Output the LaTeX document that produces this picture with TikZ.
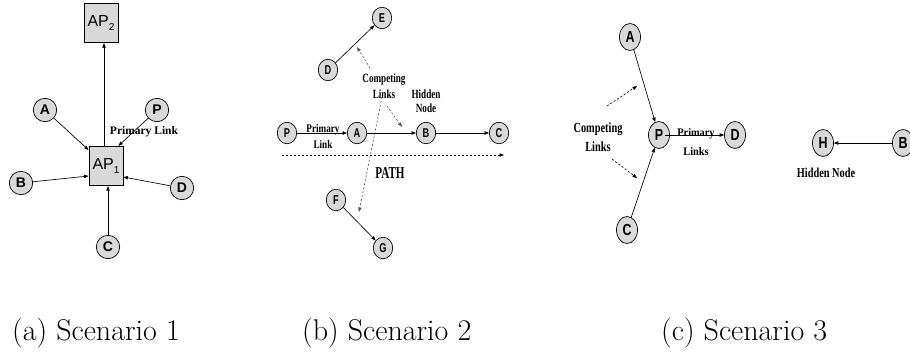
\documentclass[tikz,border=0pt]{standalone}
\usepackage{fontspec}
\usetikzlibrary{arrows.meta,shapes.geometric}
\newfontfamily\lsans{Liberation Sans}
\newfontfamily\lserif{Liberation Serif}
\definecolor{nodefill}{RGB}{217,217,217}
\tikzset{
  link/.style={-{Triangle[length=4.5pt,width=3.4pt]}, line width=0.65pt},
  compete/.style={-{Triangle[length=4.5pt,width=3.4pt]}, line width=0.6pt,
    dash pattern=on 2.2pt off 1.8pt, black!65},
  pathline/.style={-{Triangle[length=4.5pt,width=3.4pt]}, line width=0.6pt,
    dash pattern=on 2pt off 2pt},
  sonenode/.style={circle, draw, line width=0.7pt, fill=nodefill,
    minimum size=23.4pt, inner sep=0pt,
    font=\lsans\bfseries\fontsize{14}{14}\selectfont},
  stwonode/.style={ellipse, draw, line width=0.7pt, fill=nodefill,
    xscale=0.72, minimum width=27pt, minimum height=21.5pt, inner sep=0pt,
    font=\lsans\bfseries\fontsize{12.8}{13}\selectfont},
  sthreenode/.style={ellipse, draw, line width=0.7pt, fill=nodefill,
    xscale=0.78, minimum width=27pt, minimum height=27pt, inner sep=0pt,
    font=\lsans\bfseries\fontsize{16}{16}\selectfont},
  apbox/.style={rectangle, draw, line width=0.8pt, fill=nodefill,
    minimum width=34pt, minimum height=39.5pt, inner sep=0pt,
    font=\lsans\fontsize{16}{16}\selectfont},
  lbl/.style={inner sep=0pt, align=center, font=\lserif\bfseries},
  caption/.style={anchor=base west, inner sep=0pt, font=\fontsize{30}{36}\selectfont}
}
\newcommand{\apsub}[1]{\raisebox{-4pt}{\fontsize{10}{10}\selectfont #1}}
\begin{document}
\begin{tikzpicture}[x=1pt,y=-1pt]
\useasboundingbox (0,0) rectangle (910,351);

% ---------- Scenario 1: access points ----------
\node[apbox] (AP2) at (101,23) {AP\apsub{2}};
\node[apbox] (AP1) at (106,166) {AP\apsub{1}};
\node[sonenode] (s1A) at (45,110) {A};
\node[sonenode] (s1P) at (157,110) {P};
\node[sonenode] (s1B) at (21,183) {B};
\node[sonenode] (s1D) at (182,188) {D};
\node[sonenode] (s1C) at (108,247) {C};
\draw[link] ([xshift=-2pt]AP1.north) -- ([xshift=-2pt]AP1.north |- AP2.south);
\draw[link] (s1A) -- (AP1);
\draw[link] (s1P) -- ([xshift=-5pt]AP1.north east);
\draw[link] (s1B) -- ([yshift=-10pt]AP1.west);
\draw[link] (s1D) -- ([yshift=-11pt]AP1.east);
\draw[link] (s1C) -- (s1C |- AP1.south);
\node[lbl, font=\lserif\bfseries\fontsize{11.5}{13}\selectfont] (s1prim) at (144,132) {Primary Link};

% ---------- Scenario 2: path with hidden node ----------
\node[stwonode] (s2E) at (382,18) {E};
\node[stwonode] (s2D) at (328,70) {D};
\node[stwonode] (s2P) at (287,133) {P};
\node[stwonode] (s2A) at (357,133) {A};
\node[stwonode] (s2B) at (426,133) {B};
\node[stwonode] (s2C) at (499,133) {C};
\node[stwonode] (s2F) at (336,200) {F};
\node[stwonode] (s2G) at (383,248) {G};
\draw[link] (s2D) -- (s2E);
\draw[link] (s2F) -- (s2G);
\draw[link] (s2P) -- (s2A);
\draw[link] (s2A) -- (s2B);
\draw[link] (s2B) -- (s2C);
\coordinate (pathL) at (282,155);
\coordinate (pathR) at (504,155);
\draw[pathline] (pathL) -- (pathR);
\node[lbl, xscale=0.73, font=\lserif\bfseries\fontsize{12.5}{16}\selectfont] (s2comp) at (384,86) {Competing\\Links};
\node[lbl, xscale=0.73, font=\lserif\bfseries\fontsize{12.5}{14}\selectfont] (s2hid) at (426,101) {Hidden\\Node};
\node[lbl, xscale=0.79, font=\lserif\bfseries\fontsize{11.6}{16}\selectfont] (s2prim) at (323,136) {Primary\\Link};
\node[lbl, xscale=0.67, font=\lserif\bfseries\fontsize{16.6}{18}\selectfont] (s2path) at (390,173) {PATH};
\coordinate (c2a) at (370,68);
\coordinate (c2b) at (357,47);
\coordinate (c2c) at (387,106);
\coordinate (c2d) at (402,127);
\coordinate (c2e) at (382,97);
\coordinate (c2f) at (359,212);
\draw[compete] (c2a) -- (c2b);
\draw[compete] (c2c) -- (c2d);
\draw[compete] (c2e) -- (c2f);

% ---------- Scenario 3: competing links ----------
\node[sthreenode] (s3A) at (630,37) {A};
\node[sthreenode] (s3P) at (659,135) {P};
\node[sthreenode] (s3D) at (735,135) {D};
\node[sthreenode] (s3C) at (627,230) {C};
\node[sthreenode] (s3H) at (823,143) {H};
\node[sthreenode] (s3B) at (903,143) {B};
\draw[link] (s3A) -- (s3P);
\draw[link] (s3C) -- (s3P);
\draw[link] ([xshift=6pt]s3P.center) -- (s3D);
\draw[link] (s3B) -- (s3H);
\node[lbl, xscale=0.74, font=\lserif\bfseries\fontsize{14}{19}\selectfont] (s3comp) at (598,137) {Competing\\Links};
\node[lbl, xscale=0.89, font=\lserif\bfseries\fontsize{11.6}{19}\selectfont] (s3prim) at (696,142) {Primary\\Links};
\node[lbl, xscale=0.76, font=\lserif\bfseries\fontsize{13.6}{15}\selectfont] (s3hid) at (826,173) {Hidden Node};
\coordinate (c3a) at (607,106);
\coordinate (c3b) at (637,86);
\coordinate (c3c) at (612,159);
\coordinate (c3d) at (637,178);
\draw[compete, black] (c3a) -- (c3b);
\draw[compete, black] (c3c) -- (c3d);

% ---------- captions ----------
\node[caption] (capa) at (12,340) {(a) Scenario 1};
\node[caption] (capb) at (302,340) {(b) Scenario 2};
\node[caption] (capc) at (661,340) {(c) Scenario 3};
\end{tikzpicture}
\end{document}
